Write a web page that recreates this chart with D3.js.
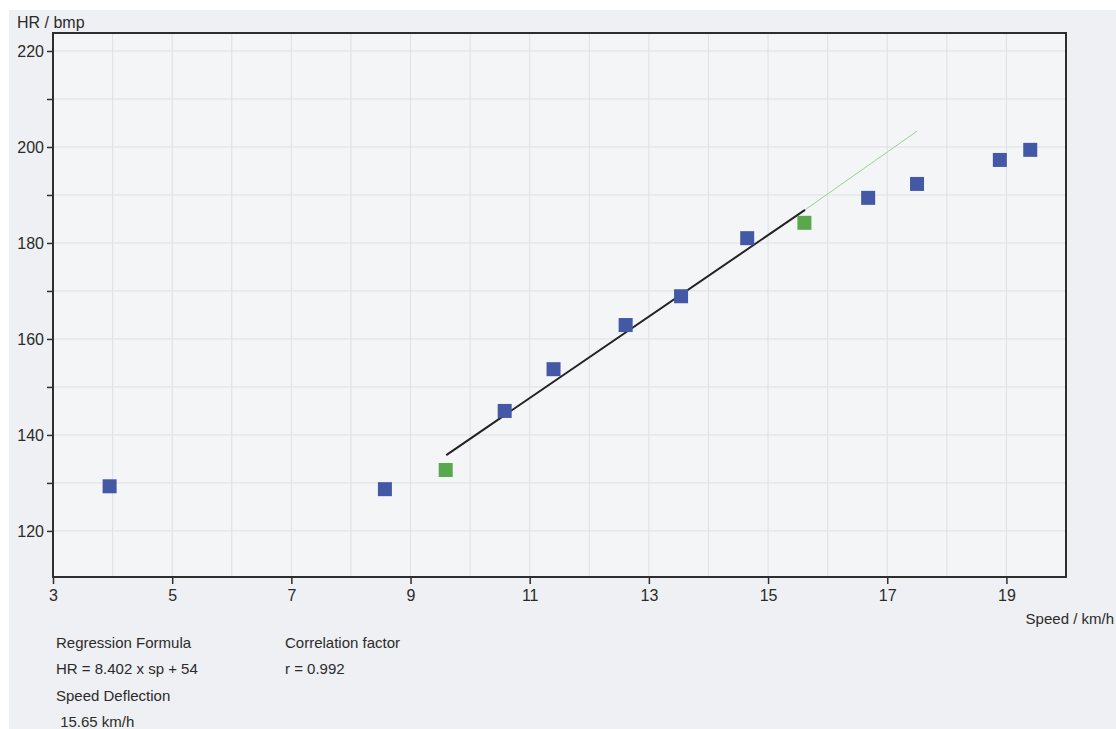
<!DOCTYPE html>
<html>
<head>
<meta charset="utf-8">
<script src="https://cdn.jsdelivr.net/npm/d3@7"></script>
<style>
  html, body { margin: 0; padding: 0; background: #ffffff; }
  svg { display: block; font-family: "Liberation Sans", Arial, sans-serif; }
</style>
</head>
<body>
<svg id="chart" width="1116" height="729"></svg>
<script>
// --------------- Data ---------------
const speed = [3.95, 8.57, 9.59, 10.58, 11.4, 12.61, 13.54, 14.65, 15.61, 16.68, 17.5, 18.89, 19.4];
const heartRate = [129.3, 128.7, 132.7, 145.0, 153.7, 162.9, 168.9, 181.0, 184.2, 189.4, 192.3, 197.3, 199.4];
// points used as regression bounds are drawn green
const isBound = [false, false, true, false, false, false, false, false, true, false, false, false, false];

const regressionLine = [[9.6, 135.8], [15.62, 186.9]];
const extensionLine = [[15.62, 186.9], [17.5, 203.3]];

const xTicks = [3, 5, 7, 9, 11, 13, 15, 17, 19];
const yTicks = [120, 130, 140, 150, 160, 170, 180, 190, 200, 210, 220];
const yLabels = [120, 140, 160, 180, 200, 220];

const infoLeft = ["Regression Formula", "HR = 8.402 x sp + 54", "Speed Deflection", " 15.65 km/h"];
const infoRight = ["Correlation factor", "r = 0.992"];

// --------------- Constants ---------------
const LEFT = 53, RIGHT = 1066, TOP = 33, BOTTOM = 577;
const BLUE = "#4459a6";
const GREEN = "#5aa84e";
const INK = "#2e2e2e";
const TEXT = "#2b2b2b";
const LINE_GAP = 26.3;

const svg = d3.select("#chart");

// paper background (scan)
svg.append("rect").attr("width", 1116).attr("height", 729).attr("fill", "#ffffff");
svg.append("rect")
  .attr("x", 9).attr("y", 10)
  .attr("width", 1107).attr("height", 719)
  .attr("fill", "#eef0f3");

const x = d3.scaleLinear().domain([3, 20]).range([LEFT, RIGHT]);
const y = d3.scaleLinear().domain([110.4, 223.75]).range([BOTTOM, TOP]);

const g = svg.append("g");

// plot area
g.append("rect")
  .attr("x", LEFT).attr("y", TOP)
  .attr("width", RIGHT - LEFT).attr("height", BOTTOM - TOP)
  .attr("fill", "#f4f5f7");

// grid
g.append("g")
  .selectAll("line")
  .data(d3.range(4, 20))
  .join("line")
  .attr("x1", (d) => x(d)).attr("x2", (d) => x(d))
  .attr("y1", TOP).attr("y2", BOTTOM)
  .attr("stroke", "#dde0e5").attr("stroke-width", 1);

g.append("g")
  .selectAll("line")
  .data(yTicks)
  .join("line")
  .attr("x1", LEFT).attr("x2", RIGHT)
  .attr("y1", (d) => y(d)).attr("y2", (d) => y(d))
  .attr("stroke", "#dde0e5").attr("stroke-width", 1);

// axes
const xAxis = d3.axisBottom(x).tickValues(xTicks).tickSize(7).tickPadding(6).tickFormat(d3.format("d"));
const yAxis = d3.axisLeft(y).tickValues(yTicks).tickSize(6).tickPadding(3)
  .tickFormat((d) => (yLabels.includes(d) ? d : ""));

const gx = g.append("g").attr("transform", `translate(0,${BOTTOM})`).call(xAxis);
const gy = g.append("g").attr("transform", `translate(${LEFT},0)`).call(yAxis);

[gx, gy].forEach((a) => {
  a.select(".domain").remove();
  a.selectAll(".tick line").attr("stroke", INK).attr("stroke-width", 1.5);
  a.selectAll(".tick text").attr("fill", TEXT).attr("font-size", 16);
});

// frame
g.append("rect")
  .attr("x", LEFT).attr("y", TOP)
  .attr("width", RIGHT - LEFT).attr("height", BOTTOM - TOP)
  .attr("fill", "none").attr("stroke", INK).attr("stroke-width", 2);

// regression lines
const line = d3.line().x((d) => x(d[0])).y((d) => y(d[1]));
g.append("path").datum(extensionLine).attr("d", line)
  .attr("stroke", "#9ccf95").attr("stroke-width", 1).attr("fill", "none");
g.append("path").datum(regressionLine).attr("d", line)
  .attr("stroke", "#222").attr("stroke-width", 2).attr("fill", "none");

// points
const SIZE = 14;
g.append("g")
  .selectAll("rect")
  .data(speed.map((s, i) => ({ s, hr: heartRate[i], bound: isBound[i] })))
  .join("rect")
  .attr("x", (d) => x(d.s) - SIZE / 2)
  .attr("y", (d) => y(d.hr) - SIZE / 2)
  .attr("width", SIZE).attr("height", SIZE)
  .attr("fill", (d) => (d.bound ? GREEN : BLUE));

// labels
svg.append("text").attr("x", 17).attr("y", 28)
  .attr("font-size", 16).attr("fill", TEXT).text("HR / bmp");
svg.append("text").attr("x", 1114).attr("y", 624).attr("text-anchor", "end")
  .attr("font-size", 15).attr("fill", TEXT).text("Speed / km/h");

svg.append("g").selectAll("text")
  .data(infoLeft)
  .join("text")
  .attr("x", 56).attr("y", (_d, i) => 648 + i * LINE_GAP)
  .attr("font-size", 15).attr("fill", TEXT)
  .attr("xml:space", "preserve")
  .text((d) => d);

svg.append("g").selectAll("text")
  .data(infoRight)
  .join("text")
  .attr("x", 285).attr("y", (_d, i) => 648 + i * LINE_GAP)
  .attr("font-size", 15).attr("fill", TEXT)
  .text((d) => d);
</script>
</body>
</html>
